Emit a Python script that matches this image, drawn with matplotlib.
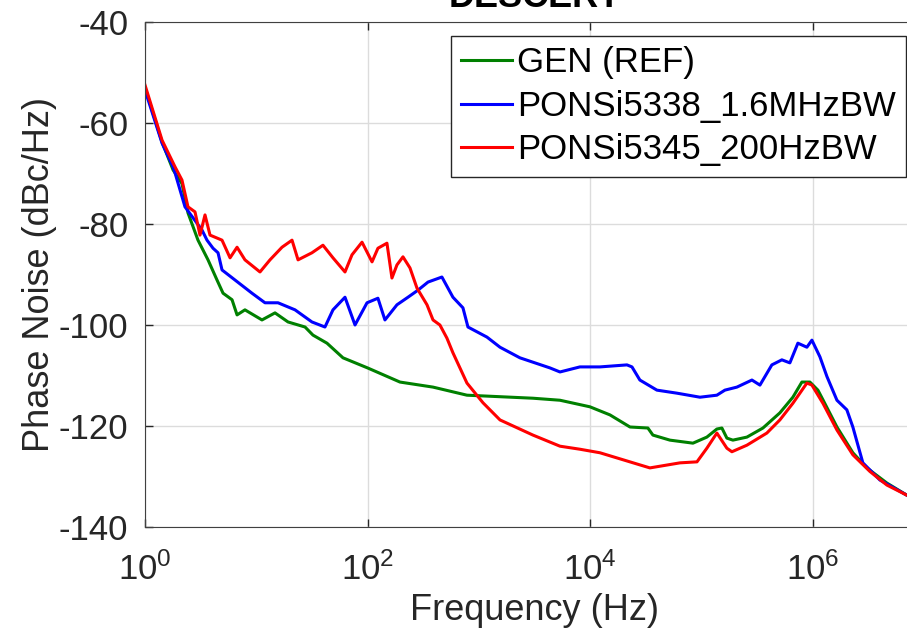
import numpy as np
import matplotlib.pyplot as plt

plt.rcParams['font.family'] = ['Liberation Sans', 'DejaVu Sans']
plt.rcParams['axes.unicode_minus'] = False
plt.rcParams['mathtext.fontset'] = 'custom'
plt.rcParams['mathtext.rm'] = 'Liberation Sans'

# frequencies kept as log10(Hz), phase noise in dBc/Hz
gen_logf = [0, 0.153, 0.252, 0.332, 0.386, 0.476, 0.566, 0.647, 0.701, 0.782,
            0.827, 0.898, 1.051, 1.168, 1.285, 1.438, 1.509, 1.635, 1.779, 2.0,
            2.291, 2.588, 2.893, 3.190, 3.486, 3.729, 3.998, 4.178, 4.358, 4.519,
            4.564, 4.717, 4.924, 5.049, 5.139, 5.184, 5.229, 5.283, 5.409, 5.553,
            5.705, 5.822, 5.903, 5.975, 6.047, 6.092, 6.218, 6.361, 6.487, 6.667,
            6.846, 7.0]
gen_db = [-53, -63.8, -69.3, -72, -77.8, -83.2, -87.1, -91.1, -93.7, -95,
          -98, -97, -99, -97.6, -99.4, -100.4, -102, -103.6, -106.5, -108.5,
          -111.3, -112.3, -113.9, -114.2, -114.5, -114.9, -116.2, -117.8, -120.2, -120.4,
          -121.8, -122.8, -123.4, -122.2, -120.6, -120.4, -122.4, -122.8, -122.2, -120.4,
          -117.4, -114.3, -111.3, -111.3, -112.9, -114.8, -120.2, -125.3, -128.3, -131.3,
          -133.7, -134.8]

b_logf = [0, 0.153, 0.252, 0.270, 0.359, 0.512, 0.557, 0.611, 0.656, 0.692,
          0.809, 0.961, 1.078, 1.195, 1.348, 1.500, 1.617, 1.689, 1.797, 1.887,
          1.995, 2.093, 2.156, 2.264, 2.363, 2.453, 2.543, 2.668, 2.767, 2.857,
          2.902, 3.073, 3.190, 3.369, 3.639, 3.729, 3.908, 4.088, 4.331, 4.376,
          4.447, 4.600, 4.780, 4.987, 5.139, 5.211, 5.319, 5.454, 5.526, 5.633,
          5.723, 5.795, 5.867, 5.948, 5.993, 6.065, 6.128, 6.218, 6.307, 6.361,
          6.451, 6.604, 6.846, 7.0]
b_db = [-53.5, -64, -68.7, -69.9, -76.6, -81.2, -83.2, -84.8, -85.7, -89.1,
        -91.1, -93.7, -95.6, -95.6, -97, -99.4, -100.4, -97, -94.5, -100,
        -95.6, -94.7, -99, -96, -94.5, -93.1, -91.5, -90.5, -94.5, -96.6,
        -100.4, -102.4, -104.4, -106.5, -108.5, -109.3, -108.3, -108.3, -107.9, -108.3,
        -110.9, -112.9, -113.5, -114.3, -113.9, -112.9, -112.3, -110.9, -111.9, -107.9,
        -106.9, -107.5, -103.6, -104.4, -103, -106.3, -110.2, -114.9, -116.8, -120.2,
        -127.3, -130.7, -133.7, -134.8]

r_logf = [0, 0.153, 0.270, 0.332, 0.386, 0.449, 0.494, 0.539, 0.584, 0.692,
          0.764, 0.827, 0.898, 1.033, 1.123, 1.231, 1.321, 1.375, 1.500, 1.599,
          1.689, 1.797, 1.860, 1.950, 2.040, 2.093, 2.174, 2.219, 2.264, 2.318,
          2.381, 2.444, 2.534, 2.588, 2.650, 2.713, 2.767, 2.893, 3.037, 3.190,
          3.486, 3.729, 3.908, 4.088, 4.447, 4.537, 4.807, 4.960, 5.049, 5.139,
          5.229, 5.274, 5.409, 5.588, 5.705, 5.822, 5.948, 5.993, 6.092, 6.218,
          6.361, 6.514, 6.667, 6.846, 7.0]
r_db = [-52.5, -63.4, -68.7, -71.3, -76.6, -77.6, -82.2, -78.2, -82.2, -83.2,
        -86.7, -84.6, -87.1, -89.5, -87.1, -84.6, -83.2, -87.1, -85.7, -84.2,
        -86.7, -89.5, -86.1, -83.6, -87.5, -84.8, -83.8, -90.7, -88.1, -86.5,
        -88.7, -92.7, -96, -99, -100, -102.6, -105.5, -111.5, -115.4, -118.8,
        -121.8, -124, -124.6, -125.3, -127.7, -128.3, -127.3, -127.1, -124.4, -121.4,
        -124.4, -125.1, -123.8, -121.4, -118.8, -115.5, -111.5, -111.9, -115.5, -120.8,
        -125.7, -129, -131.7, -133.7, -134.8]

fig = plt.figure(figsize=(9.07, 6.36), dpi=100)
ax = fig.add_axes([0.1599, 0.1714, 0.8588, 0.794])

ax.semilogx(10 ** np.array(gen_logf), gen_db, color='#008000', lw=2.2, label='GEN (REF)')
ax.semilogx(10 ** np.array(b_logf), b_db, color='#0000ff', lw=2.2, label='PONSi5338_1.6MHzBW')
ax.semilogx(10 ** np.array(r_logf), r_db, color='#ff0000', lw=2.2, label='PONSi5345_200HzBW')

ax.set_xlim(1, 1e7)
ax.set_ylim(-140, -40)
ax.set_xticks([1, 1e2, 1e4, 1e6])
ax.set_xticklabels([r'$\mathregular{10^{0}}$', r'$\mathregular{10^{2}}$',
                    r'$\mathregular{10^{4}}$', r'$\mathregular{10^{6}}$'])
ax.xaxis.set_minor_locator(plt.NullLocator())
ax.set_yticks(np.arange(-140, -39, 20))
ax.tick_params(direction='in', top=True, right=True, labelsize=25,
               colors='#262626', length=6, width=1)
ax.tick_params(axis='x', pad=18)
ax.tick_params(axis='y', pad=12)
ax.grid(True, color='#dcdcdc', lw=1)
for s in ax.spines.values():
    s.set_color('#404040')

ax.set_xlabel('Frequency (Hz)', fontsize=26, color='#262626', labelpad=5)
ax.set_ylabel('Phase Noise (dBc/Hz)', fontsize=26, color='#262626', labelpad=1)
ax.set_title('DESCERT', fontsize=26, fontweight='bold', pad=11)

leg = ax.legend(loc='upper right', bbox_to_anchor=(906 / 907, 1 - 36 / 636),
                bbox_transform=fig.transFigure, fontsize=25, fancybox=False,
                framealpha=1, edgecolor='#262626', handlelength=1.45,
                handletextpad=0.15, borderpad=0.3, labelspacing=0.3,
                borderaxespad=0)
leg.get_frame().set_linewidth(1)

fig.savefig('out.png', dpi=100)
